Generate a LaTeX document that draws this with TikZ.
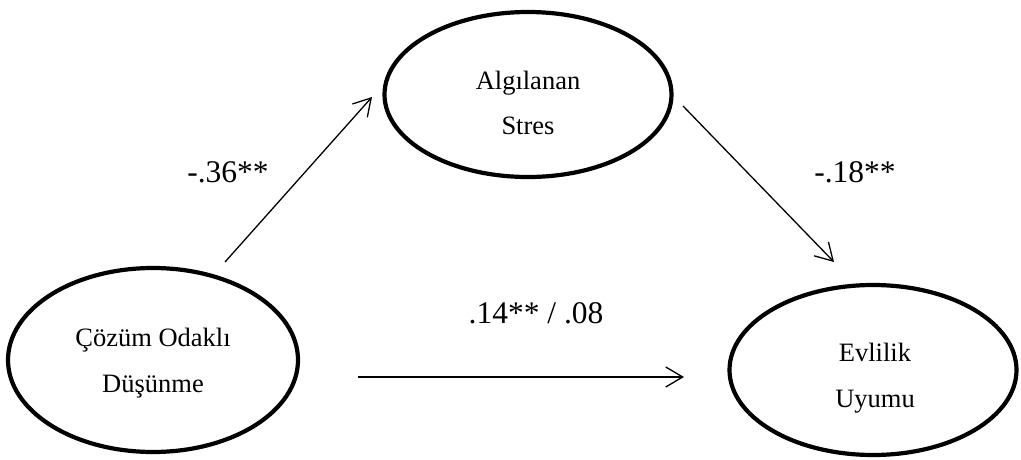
\documentclass[tikz,border=0pt]{standalone}
\usepackage{fontspec}
\setmainfont{Liberation Serif}
\usetikzlibrary{shapes.geometric,arrows.meta}
\begin{document}
\begin{tikzpicture}[x=1pt,y=-1pt,
  latent/.style={draw,ellipse,line width=4.2pt,inner sep=0pt},
  etext/.style={anchor=base,align=center,font=\rmfamily\fontsize{26.5}{45.5}\selectfont},
  coef/.style={anchor=base,font=\rmfamily\fontsize{31.5}{38}\selectfont},
  path/.style={line width=1.3pt,-{Straight Barb[length=17pt,width=20pt,line width=1.3pt]}}]
\useasboundingbox (0,0) rectangle (1021,460);
% ellipses
\node[latent,minimum width=287pt,minimum height=165pt] (stres) at (528,94.5) {};
\node[latent,minimum width=290pt,minimum height=184pt] (cozum) at (153,360) {};
\node[latent,minimum width=287pt,minimum height=170pt] (uyum) at (873,370) {};
% texts (base = baseline of last line)
\node[etext] (stresT) at (528,135) {Algılanan\\Stres};
\node[etext] (cozumT) at (153,392) {Çözüm Odaklı\\Düşünme};
\node[etext] (uyumT) at (875,407) {Evlilik\\Uyumu};
% arrow end points
\coordinate (a1s) at (225,262);
\coordinate (a1e) at (372,97);
\coordinate (a2s) at (683,106);
\coordinate (a2e) at (834,262);
\coordinate (a3s) at (358,377);
\coordinate (a3e) at (684,377);
\draw[path] (a1s) -- (a1e);
\draw[path] (a2s) -- (a2e);
\draw[path] (a3s) -- (a3e);
% coefficients
\node[coef] (c1) at (228,182) {-.36**};
\node[coef] (c2) at (855,182) {-.18**};
\node[coef] (c3) at (536,323) {.14** / .08};
\end{tikzpicture}
\end{document}
